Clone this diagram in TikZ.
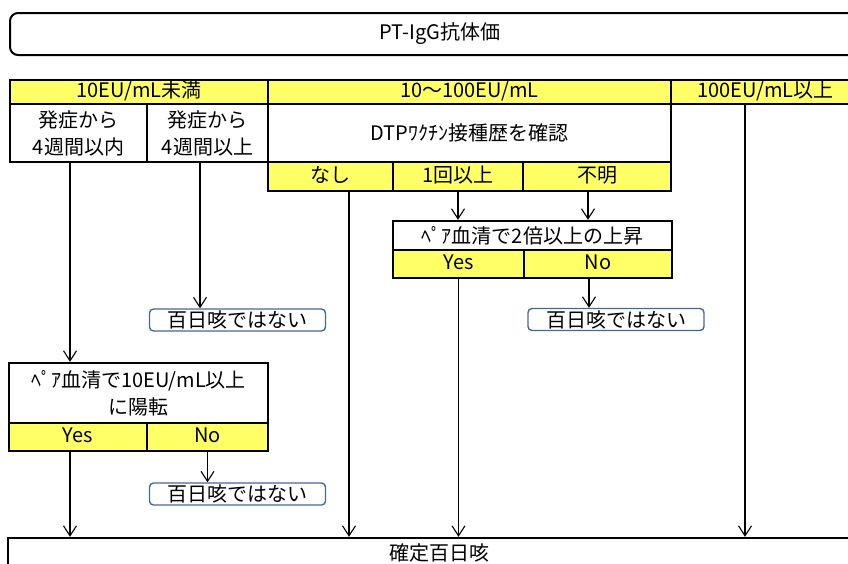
\documentclass[tikz,border=0pt]{standalone}
\usepackage{fontspec}
\setmainfont{Noto Sans CJK JP}
\usetikzlibrary{arrows.meta}
\definecolor{hdyellow}{RGB}{255,255,102}
\definecolor{nbblue}{RGB}{70,104,150}
\tikzstyle{hd} = [rectangle, draw, line width=2.4pt, fill=hdyellow,
    inner sep=0pt, minimum height=24pt, text height=14pt, text depth=3pt]
\tikzstyle{wb} = [rectangle, draw, line width=2.4pt, fill=white,
    inner sep=0pt, align=center]
\tikzstyle{nb} = [rectangle, draw=nbblue, line width=1.4pt, fill=white,
    rounded corners=4pt, inner sep=0pt, minimum width=176pt, minimum height=22pt]

\begin{document}
\begin{tikzpicture}[x=1pt,y=-1pt,->,>={Straight Barb[length=10pt,width=13pt]},
                    line width=1.1pt,font=\fontsize{20}{27}\selectfont]
  \useasboundingbox (0,0) rectangle (848,563);
  \clip (0,0) rectangle (848,563);

  % antibody titre
  \node[wb,rounded corners=8pt,line width=2pt,minimum width=860pt,minimum height=42pt]
        (pt) at (440,34) {PT-IgG抗体価};

  \node[hd,minimum width=258pt] (low)  at (139,92)   {10EU/mL未満};
  \node[hd,minimum width=403pt] (mid)  at (469.5,92) {10〜100EU/mL};
  \node[hd,minimum width=189pt] (high) at (765.5,92) {100EU/mL以上};

  \node[wb,minimum width=137pt,minimum height=58pt] (in4w)  at (78.5,133)  {発症から\\4週間以内};
  \node[wb,minimum width=121pt,minimum height=58pt] (over4w) at (207.5,133) {発症から\\4週間以上};
  \node[wb,minimum width=403pt,minimum height=58pt] (dtp)   at (469.5,133) {DTPﾜｸﾁﾝ接種歴を確認};

  \node[hd,minimum width=125pt,minimum height=29pt] (none)    at (330.5,176.5) {なし};
  \node[hd,minimum width=130pt,minimum height=29pt] (once)    at (458,176.5)   {1回以上};
  \node[hd,minimum width=148pt,minimum height=29pt] (unknown) at (597,176.5)   {不明};

  % paired sera, right
  \node[wb,minimum width=279pt,minimum height=29pt] (pairtwo) at (532.5,235.5) {ﾍﾟｱ血清で2倍以上の上昇};
  \node[hd,minimum width=131pt,minimum height=28pt] (yestwo)  at (458.5,264)   {Yes};
  \node[hd,minimum width=148pt,minimum height=28pt] (notwo)   at (598,264)     {No};

  \node[nb] (notA) at (237.5,320) {百日咳ではない};
  \node[nb] (notB) at (616,319.5) {百日咳ではない};

  % paired sera, left
  \node[wb,minimum width=259pt,minimum height=60pt] (pairone) at (138.5,393) {ﾍﾟｱ血清で10EU/mL以上\\に陽転};
  \node[hd,minimum width=138pt,minimum height=28pt] (yesone)  at (78,437)    {Yes};
  \node[hd,minimum width=121pt,minimum height=28pt] (noone)   at (207.5,437) {No};

  \node[nb] (notC) at (237.5,494) {百日咳ではない};

  \node[wb,minimum width=862pt,minimum height=30pt] (final) at (439,553) {確定百日咳};

  \draw (in4w.south -| 70,0)    -- (pairone.north -| 70,0);
  \draw (over4w.south -| 200,0) -- (notA.north -| 200,0);
  \draw (none.south -| 349,0)   -- (final.north -| 349,0);
  \draw (once.south)            -- (pairtwo.north -| once.south);
  \draw (unknown.south -| 588,0) -- (pairtwo.north -| 588,0);
  \draw (yestwo.south)          -- (final.north -| yestwo.south);
  \draw (notwo.south -| 589,0)  -- (notB.north -| 589,0);
  \draw (high.south -| 745,0)   -- (final.north -| 745,0);
  \draw (yesone.south -| 70,0)  -- (final.north -| 70,0);
  \draw (noone.south)           -- (notC.north -| noone.south);
\end{tikzpicture}
\end{document}
